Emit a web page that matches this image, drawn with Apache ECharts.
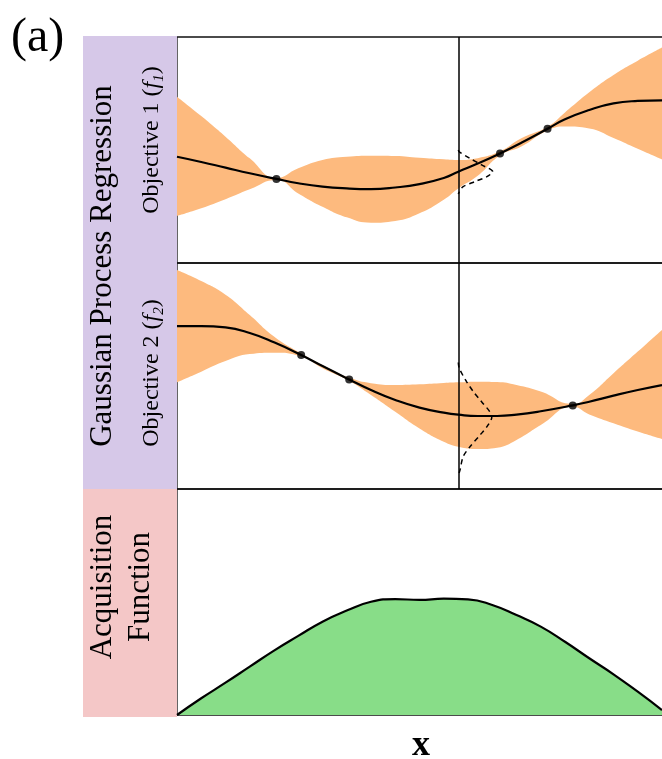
<!DOCTYPE html>
<html>
<head>
<meta charset="utf-8">
<script src="https://cdn.jsdelivr.net/npm/echarts@6/dist/echarts.min.js"></script>
<style>
  html, body { margin: 0; padding: 0; background: #fff; }
  #chart { width: 662px; height: 759px; }
</style>
</head>
<body>
<div id="chart"></div>
<script>
// ---- Objective 1 (f1): GP posterior mean and confidence band ----
const xTop     = [0, 5, 10, 15, 20.5, 25, 30, 35, 40, 45, 50, 55, 58, 62, 66.6, 71, 76.4, 80, 85, 90, 95, 100];
const meanTop  = [47.0, 44.7, 42.2, 39.7, 37.2, 35.3, 33.8, 33.0, 32.7, 33.4, 34.9, 37.6, 40.4, 44.0, 48.5, 53.2, 59.4, 63.6, 67.7, 70.6, 71.7, 72.0];
const upperTop = [73.6, 65.0, 55.9, 46.3, 37.6, 41.9, 45.6, 47.0, 47.5, 47.4, 46.6, 45.9, 45.6, 46.4, 49.4, 55.2, 60.3, 66.6, 75.5, 83.2, 89.5, 95.3];
const lowerTop = [20.8, 24.2, 28.2, 32.6, 36.7, 30.8, 24.9, 20.2, 17.8, 18.6, 22.0, 28.0, 33.0, 38.6, 47.6, 51.5, 58.6, 60.4, 59.5, 55.3, 50.5, 45.8];
const obsTopX  = [20.5, 66.6, 76.4];
const obsTopY  = [37.2, 48.5, 59.4];

// ---- Objective 2 (f2) ----
const xMid     = [0, 5, 10, 15, 20, 25.6, 30, 35.5, 40, 45, 50, 55, 58, 62, 66, 70, 75, 81.6, 85, 90, 95, 100];
const meanMid  = [72.1, 72.1, 71.5, 69.0, 64.9, 59.3, 54.4, 48.5, 43.8, 39.4, 36.0, 33.8, 32.9, 32.3, 32.3, 32.9, 34.4, 37.0, 38.6, 41.3, 43.8, 46.0];
const upperMid = [96.9, 92.0, 86.0, 77.0, 67.5, 60.0, 54.9, 49.3, 46.8, 46.0, 46.3, 46.9, 47.2, 47.5, 47.3, 46.0, 43.1, 37.6, 41.6, 51.2, 60.8, 70.4];
const lowerMid = [47.2, 51.9, 56.6, 59.7, 60.3, 58.6, 53.4, 47.8, 41.6, 34.2, 26.8, 20.9, 18.7, 17.7, 18.3, 21.7, 28.3, 36.4, 33.0, 29.1, 25.4, 22.1];
const obsMidX  = [25.6, 35.5, 81.6];
const obsMidY  = [59.3, 48.5, 37.0];

// ---- Query location and predictive densities drawn sideways ----
const queryX   = 58;
const pdfTopY  = [50, 49.2, 46.3, 43.4, 40.4, 38.2, 36.0, 33.8, 31.5, 30.5];
const pdfTopW  = [0, 0.2, 2.4, 4.8, 7.1, 5.9, 3.4, 1.0, 0.2, 0];
const pdfMidY  = [56, 53.4, 47.5, 43.1, 38.6, 34.2, 31.8, 27.6, 23.9, 18.7, 14.3, 8.4, 6];
const pdfMidW  = [0, 0.2, 1.7, 3.1, 4.8, 6.5, 6.9, 5.9, 4.5, 2.4, 1.0, 0.35, 0];

// ---- Acquisition function ----
const xAcq = [0, 5, 10, 15, 20, 25, 30, 35, 40, 45, 50, 55, 60, 65, 70, 75, 80, 85, 90, 95, 100];
const acq  = [0, 7.4, 14.3, 21.4, 28.5, 35.0, 41.3, 46.2, 50.1, 51.3, 50.9, 51.5, 51.2, 48.7, 44.2, 39.1, 32.4, 25.1, 18.0, 10.3, 2.2];

// ---- Labels ----
const panelLabel  = '(a)';
const groupLabel  = 'Gaussian Process Regression';
const obj1Label   = 'Objective 1 ({fi|f}{sub|1})';
const obj2Label   = 'Objective 2 ({fi|f}{sub|2})';
const acqLabel    = 'Acquisition\nFunction';
const xLabel      = 'x';

const SERIF  = '"Liberation Serif", "DejaVu Serif", serif';
const ORANGE = '#fdba7e';
const GREEN  = '#88dd88';

const pairs = (xs, ys) => xs.map((x, i) => [x, ys[i]]);
// value first, position second: lets the band stack along y on a value x-axis
const yFirst = (xs, ys) => xs.map((x, i) => [ys[i], x]);

// plot area runs a little past the right edge so the right frame is hidden
const plotLeft = 177, plotW = 490, visibleW = 485;
const xMax = 100 * plotW / visibleW;

function frameGrid(top) {
  return { left: plotLeft, top: top, width: plotW, height: 226, show: true,
           outerBoundsMode: 'none', containLabel: false,
           borderColor: '#111', borderWidth: 1.3, backgroundColor: 'rgba(0,0,0,0)' };
}
function hiddenX(i) {
  return { type: 'value', gridIndex: i, min: 0, max: xMax, show: false };
}
function hiddenY(i) {
  return { type: 'value', gridIndex: i, min: 0, max: 100, show: false };
}

function bandSeries(axis, xs, lo, hi, key) {
  return [
    { type: 'line', xAxisIndex: axis, yAxisIndex: axis, stack: key, smooth: true,
      encode: { x: 1, y: 0 },
      symbol: 'none', lineStyle: { opacity: 0 }, data: yFirst(xs, lo), z: 1 },
    { type: 'line', xAxisIndex: axis, yAxisIndex: axis, stack: key, smooth: true,
      encode: { x: 1, y: 0 },
      symbol: 'none', lineStyle: { opacity: 0 },
      areaStyle: { color: ORANGE, opacity: 1 },
      data: yFirst(xs, hi.map((v, i) => v - lo[i])), z: 1 }
  ];
}
function meanSeries(axis, xs, ys) {
  return { type: 'line', xAxisIndex: axis, yAxisIndex: axis, smooth: true, symbol: 'none',
           lineStyle: { color: '#000', width: 2.2 }, data: pairs(xs, ys), z: 3 };
}
function obsSeries(axis, xs, ys) {
  return { type: 'scatter', xAxisIndex: axis, yAxisIndex: axis, symbolSize: 8,
           itemStyle: { color: '#000' }, data: pairs(xs, ys), z: 5 };
}
function pdfSeries(axis, ys, ws) {
  return { type: 'line', xAxisIndex: axis, yAxisIndex: axis, smooth: 0.3, symbol: 'none',
           lineStyle: { color: '#000', width: 1.5, type: [5, 4] },
           data: ys.map((y, i) => [queryX + ws[i], y]), z: 4,
           markLine: { silent: true, symbol: 'none', label: { show: false },
                       lineStyle: { color: '#000', width: 1.5, type: 'solid' },
                       data: [{ xAxis: queryX }] } };
}

const chart = echarts.init(document.getElementById('chart'), null, { renderer: 'canvas' });
chart.setOption({
  animation: false,
  backgroundColor: '#fff',
  grid: [frameGrid(37), frameGrid(263), frameGrid(489)],
  xAxis: [hiddenX(0), hiddenX(1), hiddenX(2)],
  yAxis: [hiddenY(0), hiddenY(1), hiddenY(2)],
  series: [
    ...bandSeries(0, xTop, lowerTop, upperTop, 'bandTop'),
    meanSeries(0, xTop, meanTop),
    obsSeries(0, obsTopX, obsTopY),
    pdfSeries(0, pdfTopY, pdfTopW),
    ...bandSeries(1, xMid, lowerMid, upperMid, 'bandMid'),
    meanSeries(1, xMid, meanMid),
    obsSeries(1, obsMidX, obsMidY),
    pdfSeries(1, pdfMidY, pdfMidW),
    { type: 'line', xAxisIndex: 2, yAxisIndex: 2, smooth: true, symbol: 'none',
      lineStyle: { color: '#000', width: 2.2 },
      areaStyle: { color: GREEN, opacity: 1 },
      data: pairs(xAcq, acq), z: 3 }
  ],
  graphic: [
    { type: 'rect', shape: { x: 83, y: 36, width: 94, height: 453 }, style: { fill: '#d6c8e8' }, z: 0 },
    { type: 'rect', shape: { x: 83, y: 489, width: 94, height: 228 }, style: { fill: '#f4c7c7' }, z: 0 },
    { type: 'text', x: 11, y: 38,
      style: { text: panelLabel, fontFamily: SERIF, fontSize: 48, fill: '#000',
               align: 'left', verticalAlign: 'middle' } },
    { type: 'text', x: 103, y: 266, rotation: Math.PI / 2,
      style: { text: groupLabel, fontFamily: SERIF, fontSize: 31, fill: '#000',
               align: 'center', verticalAlign: 'middle' } },
    { type: 'text', x: 152, y: 140, rotation: Math.PI / 2,
      style: { text: obj1Label, fontFamily: SERIF, fontSize: 24, fill: '#000',
               align: 'center', verticalAlign: 'middle',
               rich: { fi: { fontFamily: SERIF, fontSize: 24, fontStyle: 'italic' },
                       sub: { fontFamily: SERIF, fontSize: 15, fontStyle: 'italic',
                              verticalAlign: 'bottom', padding: [0, 0, -3, 0] } } } },
    { type: 'text', x: 152, y: 373, rotation: Math.PI / 2,
      style: { text: obj2Label, fontFamily: SERIF, fontSize: 24, fill: '#000',
               align: 'center', verticalAlign: 'middle',
               rich: { fi: { fontFamily: SERIF, fontSize: 24, fontStyle: 'italic' },
                       sub: { fontFamily: SERIF, fontSize: 15, fontStyle: 'italic',
                              verticalAlign: 'bottom', padding: [0, 0, -3, 0] } } } },
    { type: 'text', x: 122, y: 587, rotation: Math.PI / 2,
      style: { text: acqLabel, fontFamily: SERIF, fontSize: 31, lineHeight: 38, fill: '#000',
               align: 'center', verticalAlign: 'middle' } },
    { type: 'text', x: 421, y: 746,
      style: { text: xLabel, fontFamily: SERIF, fontSize: 36, fontWeight: 'bold', fill: '#000',
               align: 'center', verticalAlign: 'middle' } }
  ]
});
</script>
</body>
</html>
